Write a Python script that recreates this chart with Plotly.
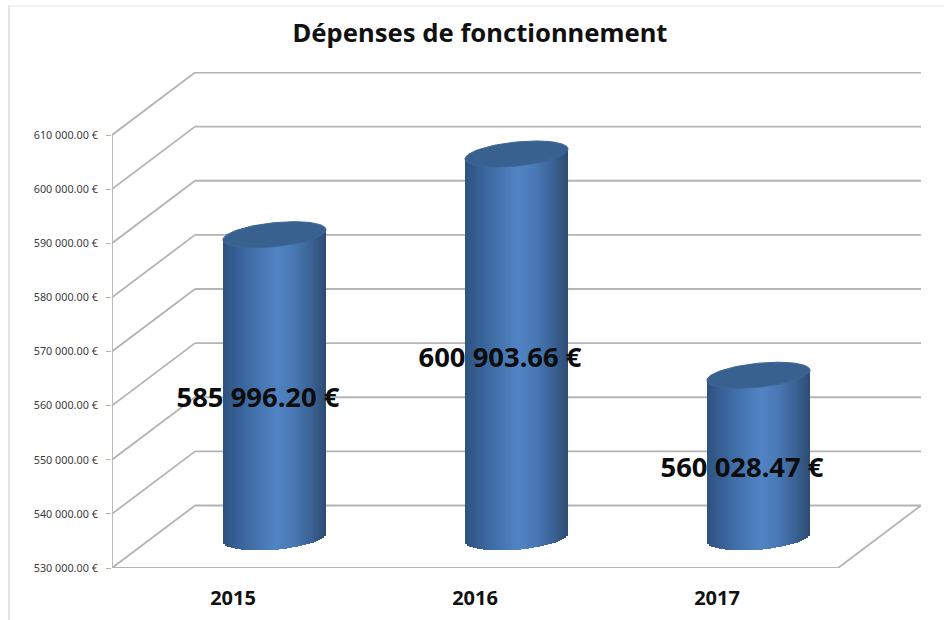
import numpy as np
import plotly.graph_objects as go

# --- data -------------------------------------------------------------
categories = ["2015", "2016", "2017"]
values = [585996.20, 600903.66, 560028.47]
value_labels = ["585 996.20 €", "600 903.66 €", "560 028.47 €"]
y_ticks = [530000, 540000, 550000, 560000, 570000, 580000, 590000, 600000, 610000]
y_tick_labels = ["530 000.00 €", "540 000.00 €", "550 000.00 €", "560 000.00 €", "570 000.00 €",
                 "580 000.00 €", "590 000.00 €", "600 000.00 €", "610 000.00 €"]
title = "Dépenses de fonctionnement"

# --- geometry ---------------------------------------------------------
W, H = 944, 620
L, R, T, B = 112, 921, 72, 568          # plot area, pixels
PX_X = 242.0                            # pixels per category
PX_Y = 433.0 / 80000                    # pixels per euro
DEPTH_X = 83 / PX_X                     # 3-D depth expressed in axis units
DEPTH_Y = 62.5 / PX_Y
Y0 = y_ticks[0]
FONT = "Noto Sans"
GRID = "#b4b4b4"

RADIUS = 51.5 / PX_X
CAP_B = 12.0 / PX_Y
CAP_K = 5.0 / PX_Y
N = 52
STOPS_U = [-1.0, -0.7, -0.35, 0.05, 0.35, 0.7, 1.0]
STOPS_RGB = np.array([[46, 82, 128], [56, 98, 152], [68, 116, 174], [82, 132, 197],
                      [74, 122, 182], [60, 100, 152], [46, 76, 114]], float)

bx, by, bbase, bcol = [], [], [], []
fig = go.Figure()
us = (np.arange(N) + 0.5) / N * 2 - 1
for i, v in enumerate(values):
    cx = i + 0.5 + DEPTH_X / 2
    top = v + DEPTH_Y / 2 - 1.0 / PX_Y
    bot = Y0 + DEPTH_Y / 2 - 1.0 / PX_Y
    for u in us:
        lo = bot + CAP_K * u * 0.8 - CAP_B * np.sqrt(1 - u * u)
        hi = top + CAP_K * u
        bx.append(cx + u * RADIUS)
        bbase.append(lo)
        by.append(hi - lo)
        rgb = [np.interp(u, STOPS_U, STOPS_RGB[:, c]) for c in range(3)]
        bcol.append("rgb(%d,%d,%d)" % tuple(rgb))

fig.add_trace(go.Bar(x=bx, y=by, base=bbase, width=2 * RADIUS / N * 1.12, marker=dict(color=bcol, line_width=0),
                     hoverinfo="skip", showlegend=False))

# cylinder caps
t = np.linspace(0, 2 * np.pi, 90)
for i, v in enumerate(values):
    cx = i + 0.5 + DEPTH_X / 2
    top = v + DEPTH_Y / 2 - 1.0 / PX_Y
    fig.add_trace(go.Scatter(x=cx + RADIUS * np.cos(t), y=top + CAP_B * np.sin(t) + CAP_K * np.cos(t),
                             mode="lines", fill="toself", fillcolor="#38618f", line=dict(color="#3d6797", width=1),
                             hoverinfo="skip", showlegend=False))

# value labels
n_cat = len(categories)
fig.add_trace(go.Scatter(x=[i + 0.5 + 25 / PX_X for i in range(n_cat)],
                         y=[(v + Y0) / 2 + DEPTH_Y / 2 - 15 / PX_Y for v in values],
                         mode="text", text=value_labels, textposition="middle center",
                         textfont=dict(family=FONT, size=27.4, color="#0c0c0c", weight="bold"),
                         hoverinfo="skip", showlegend=False))

# 3-D frame: gridlines, walls, floor, ticks (behind the cylinders)
shapes = []
def seg(x0, y0, x1, y1, w=1.8, c=GRID):
    shapes.append(dict(type="line", xref="x", yref="y", x0=x0, y0=y0, x1=x1, y1=y1,
                       line=dict(color=c, width=w), layer="below"))
x_end = n_cat + DEPTH_X
for g in y_ticks:
    seg(0, g, DEPTH_X, g + DEPTH_Y)
    seg(DEPTH_X, g + DEPTH_Y, x_end, g + DEPTH_Y)
seg(0, y_ticks[0], 0, y_ticks[-1])
seg(0, Y0, n_cat, Y0)
seg(n_cat, Y0, x_end, Y0 + DEPTH_Y)
for k in range(n_cat + 1):
    seg(k, Y0, k, Y0 - 6 / PX_Y, w=1)

# faint outer frame (left and top edges)
def px(xp): return (xp - L) / (R - L)
def py(yp): return (B - yp) / (B - T)
shapes.append(dict(type="line", xref="paper", yref="paper", x0=px(9), x1=px(9), y0=py(5), y1=py(H),
                   line=dict(color="#d2d2d2", width=1.2), layer="below"))
shapes.append(dict(type="line", xref="paper", yref="paper", x0=px(9), x1=px(W), y0=py(6), y1=py(6),
                   line=dict(color="#f0f0f0", width=1.5), layer="below"))

fig.update_layout(
    width=W, height=H, autosize=False,
    margin=dict(l=L, r=W - R, t=T, b=H - B, pad=0, autoexpand=False),
    paper_bgcolor="white", plot_bgcolor="white",
    showlegend=False, bargap=0, barmode="overlay", shapes=shapes,
    title=dict(text=title, x=480 / W, xanchor="center", y=1 - 33 / H, yanchor="middle",
               font=dict(family=FONT, size=25.6, color="#111111", weight="bold")),
    xaxis=dict(range=[0, x_end], tickvals=[i + 0.5 for i in range(n_cat)], ticktext=categories,
               automargin=False,
               showgrid=False, zeroline=False, showline=False, ticks="", ticklabelstandoff=16,
               tickfont=dict(family=FONT, size=20, color="#111111", weight="bold")),
    yaxis=dict(range=[Y0, Y0 + (B - T) / PX_Y], tickvals=y_ticks, ticktext=y_tick_labels,
               automargin=False,
               showgrid=False, zeroline=False, showline=False, ticks="outside", ticklen=5,
               tickcolor=GRID, tickwidth=1.4, ticklabelstandoff=6,
               tickfont=dict(family=FONT, size=10.8, color="#3c3c3c")),
)
fig.write_html("out.html", config=dict(displayModeBar=False),
               post_script="document.body.style.margin='0';")
